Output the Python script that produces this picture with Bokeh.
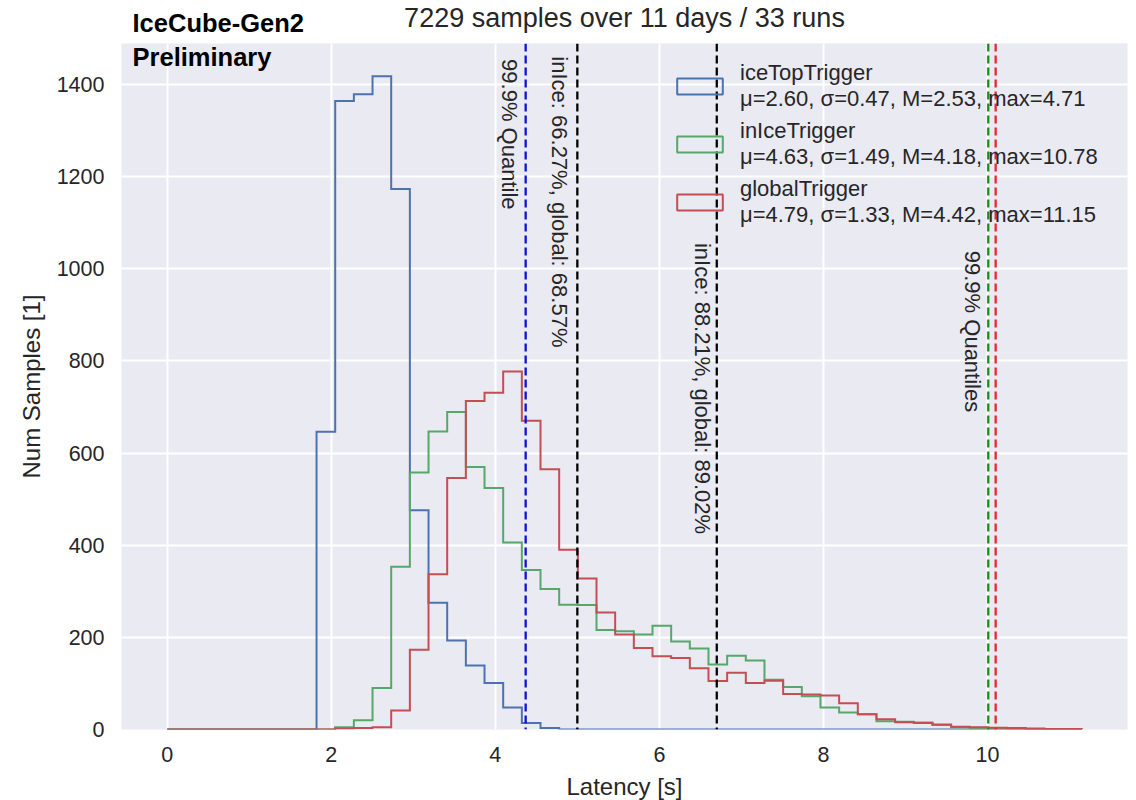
import numpy as np
from bokeh.plotting import figure
from bokeh.layouts import column
from bokeh.models import (Span, Label, Legend, LegendItem, Range1d, FixedTicker)
from bokeh.embed import file_html
from bokeh.resources import INLINE

# ---------------- data ----------------
BIN_MIN = 0.0
BIN_MAX = 11.15
N_BINS = 49

ice_top_counts = [0] * 8 + [646, 1364, 1379, 1418, 1173, 476, 275, 193, 139,
                            101, 48, 14, 3] + [0] * 28
in_ice_counts = [0] * 9 + [5, 20, 90, 353, 558, 647, 689, 570, 524, 406, 346,
                           305, 271, 270, 216, 213, 206, 225, 191, 176, 141,
                           160, 150, 108, 92, 72, 48, 37, 33, 18, 17, 15, 10,
                           5, 4, 3, 2, 1, 1] + [0]
global_counts = [0] * 9 + [2, 3, 5, 41, 173, 337, 546, 713, 731, 777, 670,
                           565, 390, 328, 254, 206, 177, 159, 155, 133, 105,
                           123, 101, 106, 77, 76, 74, 57, 33, 22, 16, 14, 11,
                           6, 5, 4, 3, 2, 1, 1]

series_names = ["iceTopTrigger", "inIceTrigger", "globalTrigger"]
series_stats = ["μ=2.60, σ=0.47, M=2.53, max=4.71",
                "μ=4.63, σ=1.49, M=4.18, max=10.78",
                "μ=4.79, σ=1.33, M=4.42, max=11.15"]
series_colors = ["#4C72B0", "#55A868", "#C44E52"]

q999_icetop = 4.37
q999_inice = 10.01
q999_global = 10.10
cut_lines = [5.0, 6.7]
cut_texts = ["inIce: 66.27%, global: 68.57%", "inIce: 88.21%, global: 89.02%"]

x_ticks = [0, 2, 4, 6, 8, 10]
y_ticks = [0, 200, 400, 600, 800, 1000, 1200, 1400]

title_text = "7229 samples over 11 days / 33 runs"
x_label = "Latency [s]"
y_label = "Num Samples [1]"

# ---------------- main figure ----------------
edges = np.linspace(BIN_MIN, BIN_MAX, N_BINS + 1)
all_max = max(max(ice_top_counts), max(in_ice_counts), max(global_counts))
span = BIN_MAX - BIN_MIN

FONT = "Liberation Sans"
TXT = "#262626"
W = 1136
LB, RB = 121, 9

fig = figure(width=W, height=730,
             x_range=Range1d(BIN_MIN - 0.05 * span, BIN_MAX + 0.05 * span),
             y_range=Range1d(0, all_max * 1.05),
             output_backend="svg", toolbar_location=None,
             min_border_left=LB, min_border_right=RB,
             min_border_top=0, min_border_bottom=44)

fig.background_fill_color = "#EAEAF2"
fig.border_fill_color = "white"
fig.outline_line_color = None

for ax in (fig.xaxis[0], fig.yaxis[0]):
    ax.axis_line_color = None
    ax.major_tick_line_color = None
    ax.minor_tick_line_color = None
    ax.major_tick_out = 0
    ax.major_tick_in = 0
    ax.major_label_text_font = FONT
    ax.major_label_text_font_size = "21.5px"
    ax.major_label_text_color = TXT
    ax.major_label_standoff = 17

fig.yaxis.axis_label = y_label
fig.yaxis.axis_label_text_font = FONT
fig.yaxis.axis_label_text_font_size = "24px"
fig.yaxis.axis_label_text_font_style = "normal"
fig.yaxis.axis_label_text_color = TXT
fig.yaxis.axis_label_standoff = 9

fig.xaxis.ticker = FixedTicker(ticks=x_ticks)
fig.yaxis.ticker = FixedTicker(ticks=y_ticks)
fig.xgrid.ticker = FixedTicker(ticks=x_ticks)
fig.ygrid.ticker = FixedTicker(ticks=y_ticks)
fig.grid.grid_line_color = "white"
fig.grid.grid_line_width = 2


def outline(counts):
    xs = np.repeat(edges, 2)
    ys = np.concatenate([[0], np.repeat(np.asarray(counts, float), 2), [0]])
    return xs, ys


boxes = []
for counts, col in zip([ice_top_counts, in_ice_counts, global_counts], series_colors):
    xs, ys = outline(counts)
    fig.line(xs, ys, line_color=col, line_width=2, line_join="miter")
    # legend-only handle (no visible mark)
    boxes.append(fig.quad(left=[np.nan], right=[np.nan], top=[np.nan], bottom=[np.nan],
                          fill_alpha=0, line_color=col, line_width=2))

# quantile / cut lines
DASH = "8 4"
fig.add_layout(Span(location=q999_icetop, dimension="height", line_color="#1010d8",
                    line_dash=DASH, line_width=2.3))
for c in cut_lines:
    fig.add_layout(Span(location=c, dimension="height", line_color="black",
                        line_dash=DASH, line_width=2.3))
fig.add_layout(Span(location=q999_inice, dimension="height", line_color="#1f8a1f",
                    line_dash=DASH, line_width=2.3))
fig.add_layout(Span(location=q999_global, dimension="height", line_color="#e8282a",
                    line_dash=DASH, line_width=2.3))

vt = dict(angle=-np.pi / 2, text_align="left", text_baseline="top",
          text_font=FONT, text_font_size="22px", text_color=TXT)
fig.add_layout(Label(x=q999_icetop, y=1455, x_offset=-4, text="99.9% Quantile", **vt))
fig.add_layout(Label(x=cut_lines[0], y=1461, x_offset=-5, text=cut_texts[0], **vt))
fig.add_layout(Label(x=cut_lines[1], y=1056, x_offset=-2, text=cut_texts[1], **vt))
fig.add_layout(Label(x=q999_inice, y=1039, x_offset=-3, text="99.9% Quantiles", **vt))

fig.add_layout(Label(x=-0.423, y=1460, text="Preliminary", text_align="left",
                     text_baseline="middle", text_font=FONT,
                     text_font_style="bold", text_font_size="25.5px", text_color="black"))

# legend
items = [LegendItem(label=n + "\n" + s, renderers=[b])
         for n, s, b in zip(series_names, series_stats, boxes)]
legend = Legend(items=items, location=(550, 501), orientation="vertical",
                background_fill_alpha=0, border_line_alpha=0,
                label_text_font=FONT, label_text_font_size="22px",
                label_text_color=TXT, label_text_line_height=1.2,
                glyph_width=57, glyph_height=20, label_standoff=12,
                spacing=6, padding=0, margin=0)
fig.add_layout(legend)

xc = (fig.x_range.start + fig.x_range.end) / 2


def strip(height):
    s = figure(width=W, height=height, x_range=fig.x_range, y_range=Range1d(0, height),
               output_backend="svg", toolbar_location=None,
               x_axis_type=None, y_axis_type=None,
               min_border_left=LB, min_border_right=RB,
               min_border_top=0, min_border_bottom=0)
    s.outline_line_color = None
    s.background_fill_color = "white"
    s.border_fill_color = "white"
    return s


# ---------------- header strip (title + branding) ----------------
hdr = strip(43)
hdr.add_layout(Label(x=xc, y=25.5, text=title_text, text_align="center",
                     text_baseline="middle", text_font=FONT, text_font_size="27px",
                     text_color=TXT))
hdr.add_layout(Label(x=-0.423, y=20.5, text="IceCube-Gen2", text_align="left",
                     text_baseline="middle", text_font=FONT,
                     text_font_style="bold", text_font_size="25.5px", text_color="black"))

# ---------------- footer strip (x-axis label) ----------------
ftr = strip(27)
ftr.add_layout(Label(x=xc, y=14, text=x_label, text_align="center",
                     text_baseline="middle", text_font=FONT, text_font_size="24px",
                     text_color=TXT))

p = column(hdr, fig, ftr, spacing=0)
open("out.html", "w").write(file_html(p, INLINE))
